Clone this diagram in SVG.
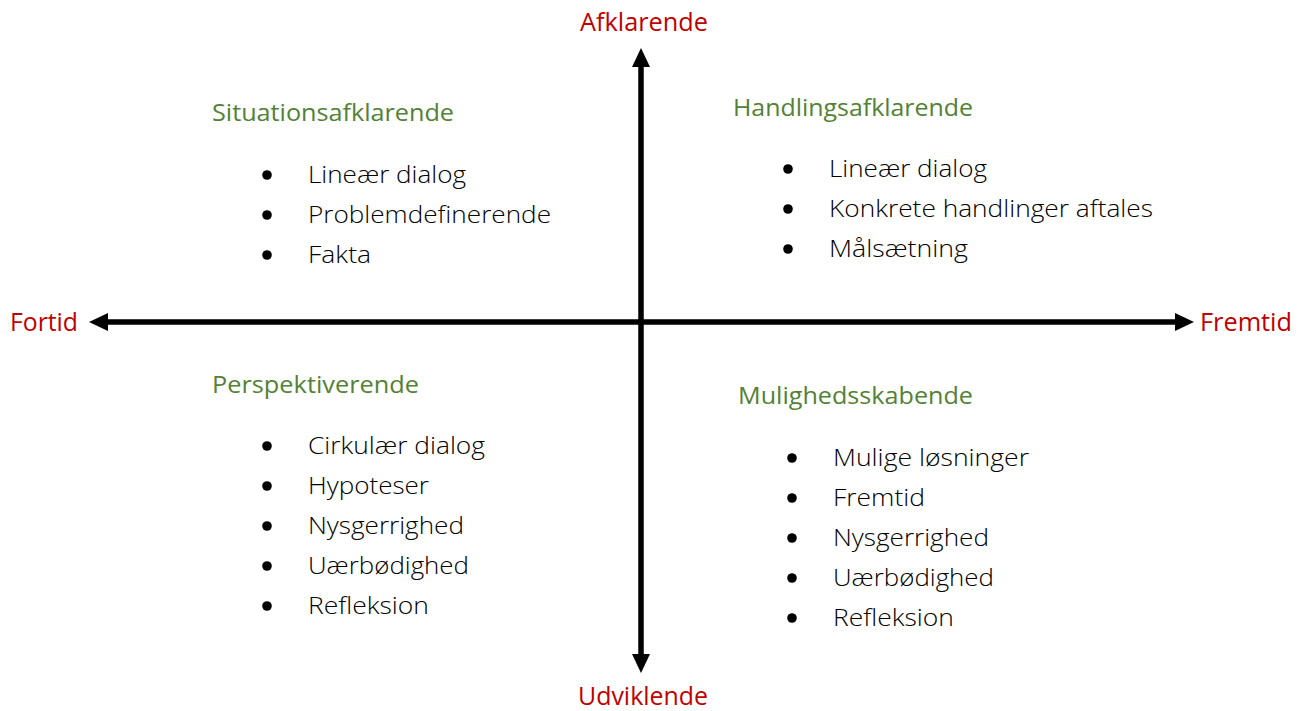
<svg xmlns="http://www.w3.org/2000/svg" width="1306" height="711" viewBox="0 0 1306 711">
<defs>
<style>
.axis{fill:#C00000;font-family:"Open Sans","Liberation Sans",sans-serif;font-size:26px;font-weight:400}
.title{fill:#538135;font-family:"Open Sans","Liberation Sans",sans-serif;font-size:24.5px;font-weight:400}
.item{fill:#000;font-family:"Open Sans","Liberation Sans",sans-serif;font-size:23px;font-weight:300}
.line{stroke:#000;stroke-width:5.5;fill:none}
.dot{fill:#000}
</style>
<marker id="ah" markerUnits="userSpaceOnUse" markerWidth="20" markerHeight="19" refX="1" refY="9" orient="auto-start-reverse">
<path d="M0,0 L19,9 L0,18 z" fill="#000"/>
</marker>
</defs>
<rect width="1306" height="711" fill="#fff"/>
<g id="connectors">
<line class="line" x1="641" y1="655" x2="641" y2="66" marker-start="url(#ah)" marker-end="url(#ah)"/>
<line class="line" x1="107" y1="322" x2="1176" y2="322" marker-start="url(#ah)" marker-end="url(#ah)"/>
</g>
<g id="axis-labels">
<text class="axis" x="580" y="31" textLength="128" lengthAdjust="spacingAndGlyphs">Afklarende</text>
<text class="axis" x="10" y="331" textLength="68" lengthAdjust="spacingAndGlyphs">Fortid</text>
<text class="axis" x="1200" y="331" textLength="92" lengthAdjust="spacingAndGlyphs">Fremtid</text>
<text class="axis" x="578" y="705" textLength="130" lengthAdjust="spacingAndGlyphs">Udviklende</text>
</g>
<g id="situationsafklarende">
<text class="title" x="212" y="121" textLength="242" lengthAdjust="spacingAndGlyphs">Situationsafklarende</text>
<circle class="dot" cx="267" cy="175" r="4.8"/>
<text class="item" x="308" y="183" textLength="158" lengthAdjust="spacingAndGlyphs">Lineær dialog</text>
<circle class="dot" cx="267" cy="215" r="4.8"/>
<text class="item" x="308" y="223" textLength="243" lengthAdjust="spacingAndGlyphs">Problemdefinerende</text>
<circle class="dot" cx="267" cy="255" r="4.8"/>
<text class="item" x="308" y="263" textLength="63" lengthAdjust="spacingAndGlyphs">Fakta</text>
</g>
<g id="handlingsafklarende">
<text class="title" x="733" y="116" textLength="240" lengthAdjust="spacingAndGlyphs">Handlingsafklarende</text>
<circle class="dot" cx="788" cy="169" r="4.8"/>
<text class="item" x="829" y="177" textLength="158" lengthAdjust="spacingAndGlyphs">Lineær dialog</text>
<circle class="dot" cx="788" cy="209" r="4.8"/>
<text class="item" x="829" y="217" textLength="324" lengthAdjust="spacingAndGlyphs">Konkrete handlinger aftales</text>
<circle class="dot" cx="788" cy="249" r="4.8"/>
<text class="item" x="829" y="257" textLength="139" lengthAdjust="spacingAndGlyphs">Målsætning</text>
</g>
<g id="perspektiverende">
<text class="title" x="212" y="393" textLength="207" lengthAdjust="spacingAndGlyphs">Perspektiverende</text>
<circle class="dot" cx="267" cy="446" r="4.8"/>
<text class="item" x="308" y="454" textLength="177" lengthAdjust="spacingAndGlyphs">Cirkulær dialog</text>
<circle class="dot" cx="267" cy="486" r="4.8"/>
<text class="item" x="308" y="494" textLength="121" lengthAdjust="spacingAndGlyphs">Hypoteser</text>
<circle class="dot" cx="267" cy="526" r="4.8"/>
<text class="item" x="308" y="534" textLength="156" lengthAdjust="spacingAndGlyphs">Nysgerrighed</text>
<circle class="dot" cx="267" cy="566" r="4.8"/>
<text class="item" x="308" y="574" textLength="161" lengthAdjust="spacingAndGlyphs">Uærbødighed</text>
<circle class="dot" cx="267" cy="606" r="4.8"/>
<text class="item" x="308" y="614" textLength="121" lengthAdjust="spacingAndGlyphs">Refleksion</text>
</g>
<g id="mulighedsskabende">
<text class="title" x="738" y="404" textLength="235" lengthAdjust="spacingAndGlyphs">Mulighedsskabende</text>
<circle class="dot" cx="792" cy="458" r="4.8"/>
<text class="item" x="833" y="466" textLength="196" lengthAdjust="spacingAndGlyphs">Mulige løsninger</text>
<circle class="dot" cx="792" cy="498" r="4.8"/>
<text class="item" x="833" y="506" textLength="92" lengthAdjust="spacingAndGlyphs">Fremtid</text>
<circle class="dot" cx="792" cy="538" r="4.8"/>
<text class="item" x="833" y="546" textLength="156" lengthAdjust="spacingAndGlyphs">Nysgerrighed</text>
<circle class="dot" cx="792" cy="578" r="4.8"/>
<text class="item" x="833" y="586" textLength="161" lengthAdjust="spacingAndGlyphs">Uærbødighed</text>
<circle class="dot" cx="792" cy="618" r="4.8"/>
<text class="item" x="833" y="626" textLength="121" lengthAdjust="spacingAndGlyphs">Refleksion</text>
</g>
</svg>
